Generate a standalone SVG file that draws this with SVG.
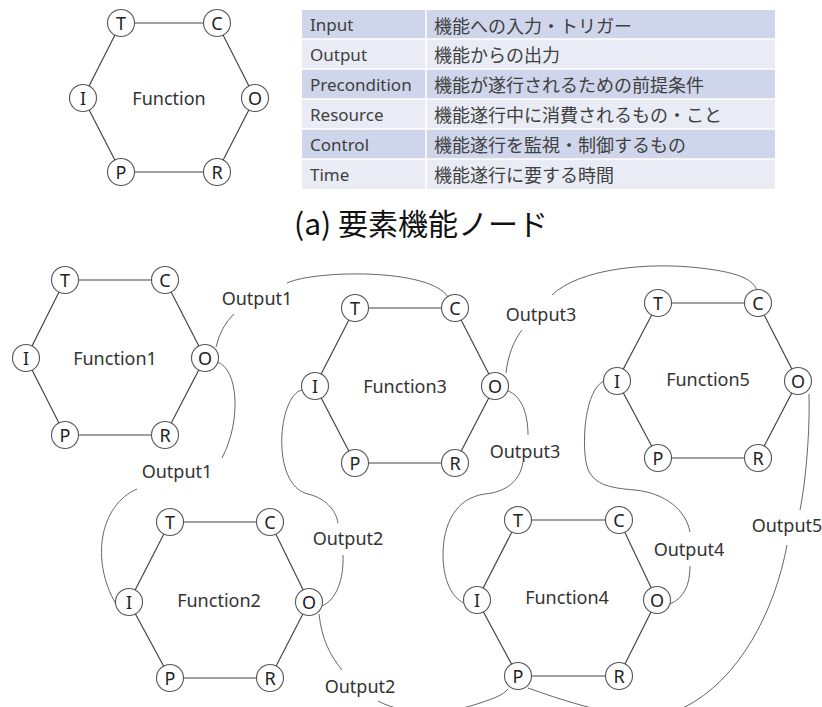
<svg xmlns="http://www.w3.org/2000/svg" width="822" height="707" viewBox="0 0 822 707">
<style>
.e{stroke:#444;stroke-width:1.2;fill:none}
.n{fill:#fff;stroke:#555;stroke-width:1.1}
.l{font-family:"Noto Sans","Liberation Sans",sans-serif;font-size:18px;fill:#222;text-anchor:middle;dominant-baseline:central}
.f{font-family:"Noto Sans","Liberation Sans",sans-serif;font-size:18px;fill:#333;text-anchor:middle;dominant-baseline:central}
.k{stroke:#666;stroke-width:1;fill:none}
.t{font-family:"Noto Sans","Noto Sans CJK JP",sans-serif;font-size:17px;fill:#404040;dominant-baseline:central}
.j{font-family:"Noto Sans CJK JP",sans-serif;font-size:18px;fill:#404040;dominant-baseline:central}
.d{fill:#cfd5ea}
.w{fill:#e9ebf5}
</style>
<rect width="822" height="707" fill="#fff"/>

<g id="legend-node">
<path class="e" d="M121,23 L217,23 L255,98 L217,172 L121,172 L83,98 Z"/>
<circle class="n" cx="121" cy="23" r="13.5"/><text class="l" x="121" y="23">T</text>
<circle class="n" cx="217" cy="23" r="13.5"/><text class="l" x="217" y="23">C</text>
<circle class="n" cx="83" cy="98" r="13.5"/><text class="l" x="83" y="98">I</text>
<circle class="n" cx="255" cy="98" r="13.5"/><text class="l" x="255" y="98">O</text>
<circle class="n" cx="121" cy="172" r="13.5"/><text class="l" x="121" y="172">P</text>
<circle class="n" cx="217" cy="172" r="13.5"/><text class="l" x="217" y="172">R</text>
<text class="f" x="169" y="98">Function</text>
</g>

<g id="legend-table">
<rect class="d" x="302" y="10" width="473" height="29"/>
<rect class="w" x="302" y="39" width="473" height="30"/>
<rect class="d" x="302" y="69" width="473" height="30"/>
<rect class="w" x="302" y="99" width="473" height="30"/>
<rect class="d" x="302" y="129" width="473" height="30"/>
<rect class="w" x="302" y="159" width="473" height="30"/>
<g stroke="#fff" stroke-width="1.5">
<line x1="302" y1="39" x2="775" y2="39"/><line x1="302" y1="69" x2="775" y2="69"/>
<line x1="302" y1="99" x2="775" y2="99"/><line x1="302" y1="129" x2="775" y2="129"/>
<line x1="302" y1="159" x2="775" y2="159"/><line x1="426" y1="10" x2="426" y2="189"/>
</g>
<text class="t" x="310" y="24.5">Input</text><text class="j" x="434" y="24.5">機能への入力・トリガー</text>
<text class="t" x="310" y="54">Output</text><text class="j" x="434" y="54">機能からの出力</text>
<text class="t" x="310" y="84">Precondition</text><text class="j" x="434" y="84">機能が遂行されるための前提条件</text>
<text class="t" x="310" y="114">Resource</text><text class="j" x="434" y="114">機能遂行中に消費されるもの・こと</text>
<text class="t" x="310" y="144">Control</text><text class="j" x="434" y="144">機能遂行を監視・制御するもの</text>
<text class="t" x="310" y="174">Time</text><text class="j" x="434" y="174">機能遂行に要する時間</text>
</g>

<text x="421" y="222" font-family="'Noto Sans CJK JP',sans-serif" font-size="30" fill="#111" text-anchor="middle" dominant-baseline="central">(a) 要素機能ノード</text>

<g id="connectors">
<path class="k" d="M216,347 Q221,326 234,314"/>
<path class="k" d="M287,283 C315,270 430,268 448,297"/>
<path class="k" d="M217,362 C238,368 242,420 222,458"/>
<path class="k" d="M137,489 C100,505 90,560 116,604"/>
<path class="k" d="M302,390 C278,395 270,485 308,494 C325,498 336,510 338,523"/>
<path class="k" d="M343,555 C344,580 336,600 322,606"/>
<path class="k" d="M319,614 C322,640 330,655 342,670"/>
<path class="k" d="M378,701 C410,718 455,712 480,703 C495,698 503,695 508,689"/>
<path class="k" d="M506,373 C508,355 514,340 522,330"/>
<path class="k" d="M552,295 C580,268 650,262 700,268 C735,272 752,278 757,290"/>
<path class="k" d="M508,391 C522,396 528,415 528,435"/>
<path class="k" d="M523,462 C520,482 505,492 485,494 C455,498 443,525 443,555 C443,580 452,598 464,603"/>
<path class="k" d="M604,381 C585,390 582,440 586,462 C590,485 610,488 635,490 C665,493 686,510 690,532"/>
<path class="k" d="M690,566 C690,585 684,598 670,604"/>
<path class="k" d="M809,394 C810,430 806,480 800,510"/>
<path class="k" d="M787,545 C775,610 740,680 683,708 C645,724 595,712 528,688"/>
<text class="f" x="257" y="298">Output1</text>
<text class="f" x="177" y="471">Output1</text>
<text class="f" x="348" y="538">Output2</text>
<text class="f" x="360" y="686">Output2</text>
<text class="f" x="541" y="314">Output3</text>
<text class="f" x="525" y="451">Output3</text>
<text class="f" x="689" y="549">Output4</text>
<text class="f" x="787" y="525">Output5</text>
</g>

<g id="function1">
<path class="e" d="M65,280 L165,280 L205,358 L165,435 L65,435 L26,358 Z"/>
<circle class="n" cx="65" cy="280" r="13.5"/><text class="l" x="65" y="280">T</text>
<circle class="n" cx="165" cy="280" r="13.5"/><text class="l" x="165" y="280">C</text>
<circle class="n" cx="26" cy="358" r="13.5"/><text class="l" x="26" y="358">I</text>
<circle class="n" cx="205" cy="358" r="13.5"/><text class="l" x="205" y="358">O</text>
<circle class="n" cx="65" cy="435" r="13.5"/><text class="l" x="65" y="435">P</text>
<circle class="n" cx="165" cy="435" r="13.5"/><text class="l" x="165" y="435">R</text>
<text class="f" x="115" y="358">Function1</text>
</g>

<g id="function3">
<path class="e" d="M355,308 L455,308 L495,386 L455,463 L355,463 L315,386 Z"/>
<circle class="n" cx="355" cy="308" r="13.5"/><text class="l" x="355" y="308">T</text>
<circle class="n" cx="455" cy="308" r="13.5"/><text class="l" x="455" y="308">C</text>
<circle class="n" cx="315" cy="386" r="13.5"/><text class="l" x="315" y="386">I</text>
<circle class="n" cx="495" cy="386" r="13.5"/><text class="l" x="495" y="386">O</text>
<circle class="n" cx="355" cy="463" r="13.5"/><text class="l" x="355" y="463">P</text>
<circle class="n" cx="455" cy="463" r="13.5"/><text class="l" x="455" y="463">R</text>
<text class="f" x="405" y="386">Function3</text>
</g>

<g id="function5">
<path class="e" d="M658,303 L758,303 L798,381 L758,458 L658,458 L617,381 Z"/>
<circle class="n" cx="658" cy="303" r="13.5"/><text class="l" x="658" y="303">T</text>
<circle class="n" cx="758" cy="303" r="13.5"/><text class="l" x="758" y="303">C</text>
<circle class="n" cx="617" cy="381" r="13.5"/><text class="l" x="617" y="381">I</text>
<circle class="n" cx="798" cy="381" r="13.5"/><text class="l" x="798" y="381">O</text>
<circle class="n" cx="658" cy="458" r="13.5"/><text class="l" x="658" y="458">P</text>
<circle class="n" cx="758" cy="458" r="13.5"/><text class="l" x="758" y="458">R</text>
<text class="f" x="708" y="379">Function5</text>
</g>

<g id="function2">
<path class="e" d="M170,522 L270,522 L309,602 L270,678 L170,678 L129,602 Z"/>
<circle class="n" cx="170" cy="522" r="13.5"/><text class="l" x="170" y="522">T</text>
<circle class="n" cx="270" cy="522" r="13.5"/><text class="l" x="270" y="522">C</text>
<circle class="n" cx="129" cy="602" r="13.5"/><text class="l" x="129" y="602">I</text>
<circle class="n" cx="309" cy="602" r="13.5"/><text class="l" x="309" y="602">O</text>
<circle class="n" cx="170" cy="678" r="13.5"/><text class="l" x="170" y="678">P</text>
<circle class="n" cx="270" cy="678" r="13.5"/><text class="l" x="270" y="678">R</text>
<text class="f" x="219" y="600">Function2</text>
</g>

<g id="function4">
<path class="e" d="M518,520 L619,520 L657,600 L619,676 L518,676 L477,600 Z"/>
<circle class="n" cx="518" cy="520" r="13.5"/><text class="l" x="518" y="520">T</text>
<circle class="n" cx="619" cy="520" r="13.5"/><text class="l" x="619" y="520">C</text>
<circle class="n" cx="477" cy="600" r="13.5"/><text class="l" x="477" y="600">I</text>
<circle class="n" cx="657" cy="600" r="13.5"/><text class="l" x="657" y="600">O</text>
<circle class="n" cx="518" cy="676" r="13.5"/><text class="l" x="518" y="676">P</text>
<circle class="n" cx="619" cy="676" r="13.5"/><text class="l" x="619" y="676">R</text>
<text class="f" x="567" y="597">Function4</text>
</g>
</svg>
